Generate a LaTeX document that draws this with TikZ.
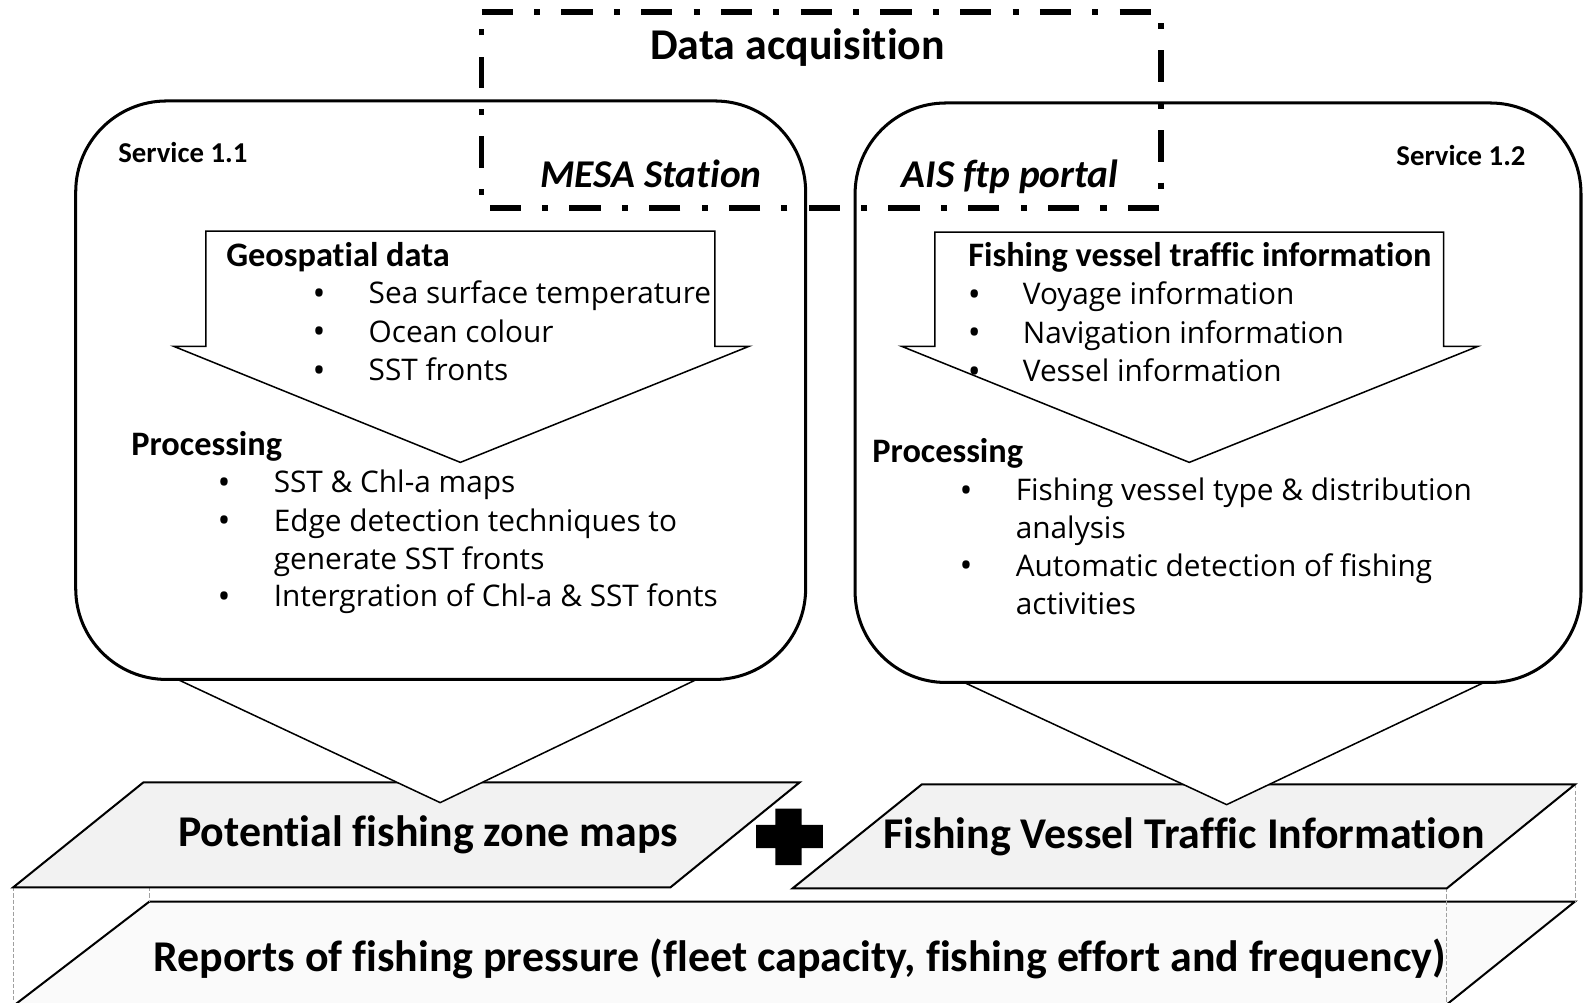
\documentclass[tikz,border=0pt]{standalone}
\usepackage{fontspec}
\setmainfont{Carlito}[Ligatures=NoCommon]
\newfontfamily\regfont{Open Sans}[Ligatures=NoCommon]
\definecolor{pgray}{HTML}{F2F2F2}
\definecolor{sgray}{HTML}{FAFAFA}
\definecolor{dgray}{HTML}{A0A0A0}
\tikzset{
  hd/.style={font=\bfseries\fontsize{34}{38}\selectfont, inner sep=0pt, anchor=west, text depth=0pt, text height=22.4pt},
  big/.style={font=\bfseries\fontsize{43.5}{48}\selectfont, inner sep=0pt, text depth=0pt, text height=28.8pt},
  svc/.style={font=\bfseries\fontsize{28.5}{30}\selectfont, inner sep=0pt, anchor=west, text depth=0pt, text height=18.8pt},
  src/.style={font=\bfseries\itshape\fontsize{39}{42}\selectfont, inner sep=0pt, anchor=west, text depth=0pt, text height=26.5pt},
  txt/.style={font=\regfont\fontsize{29.5}{38}\selectfont, inner sep=0pt, anchor=west, text depth=0pt, text height=22pt},
  bul/.style={font=\regfont\fontsize{34}{38}\selectfont, inner sep=0pt, text depth=0pt, text height=25pt},
  rbox/.style={line width=3pt, rounded corners=90pt},
  barrow/.style={line width=1.5pt, line join=miter},
  para/.style={draw, line width=2pt, fill=pgray, line join=miter},
  funnel/.style={line width=1.5pt},
  dashbox/.style={line width=5.5pt, dash pattern=on 31pt off 21pt on 6pt off 21pt},
  guide/.style={dgray, line width=0.8pt, dash pattern=on 4pt off 2pt},
}
\begin{document}
\begin{tikzpicture}[x=1pt,y=-1pt]
\useasboundingbox (0,0) rectangle (1568,993);

% bottom slab
\fill[sgray] (148,893) -- (1560,893) -- (1433,995) -- (15,995) -- cycle;
\draw[line width=2pt] (15,995) -- (148,893) -- (1560,893) -- (1433,995);
\draw[guide] (13,879) -- (13,993);
\draw[guide] (148,879) -- (148,893);
\draw[guide] (1433,880) -- (1433,993);
\draw[guide] (1560,777) -- (1560,893);
\node[big] (reports) at (792,948) {Reports of fishing pressure (fleet capacity, fishing effort and frequency)};

% parallelograms
\draw[para] (142,775) -- (792,775) -- (664,879) -- (13,879) -- cycle;
\draw[para] (913,777) -- (1560,777) -- (1433,880) -- (785,880) -- cycle;

% funnels
\fill[white] (176,675) -- (436,795) -- (690,675) -- cycle;
\draw[funnel] (176,673) -- (436,795) -- (690,673);
\fill[white] (955,678) -- (1215,797) -- (1470,678) -- cycle;
\draw[funnel] (955,676) -- (1215,797) -- (1470,676);

\node[big] (pfz) at (424,824) {Potential fishing zone maps};
\node[big] (fvti) at (1173,826) {Fishing Vessel Traffic Information};

% plus
\fill (749,817) -- (768,817) -- (768,801) -- (794,801) -- (794,817) -- (815,817) -- (815,840) -- (794,840) -- (794,857) -- (768,857) -- (768,840) -- (749,840) -- cycle;

% rounded service boxes
\draw[rbox] (75,100) rectangle (798,673);
\draw[rbox] (847,102) rectangle (1566,676);

% block arrows
\draw[barrow] (204,229) -- (708,229) -- (708,343) -- (742,343) -- (456,458) -- (172,343) -- (204,343) -- cycle;
\draw[barrow] (926,230) -- (1430,230) -- (1430,343) -- (1464,343) -- (1178,458) -- (893,343) -- (926,343) -- cycle;

% data acquisition box
\draw[dashbox] (477,12) -- (1150,12) -- (1150,206) -- (477,206) -- cycle;
\node[big] (da) at (790,45) {Data acquisition};
\node[src] (mesa) at (535,172) {MESA Station};
\node[src] (ais) at (893,172) {AIS ftp portal};

% service labels
\node[svc] (s11) at (117,152) {Service 1.1};
\node[svc] (s12) at (1383,155) {Service 1.2};

% left content
\node[hd] (geo) at (224,253) {Geospatial data};
\node[bul] (b1) at (316,290) {•};
\node[txt] (t1) at (365,290) {Sea surface temperature};
\node[bul] (b2) at (316,328) {•};
\node[txt] (t2) at (365,328) {Ocean colour};
\node[bul] (b3) at (316,366) {•};
\node[txt] (t3) at (365,366) {SST fronts};
\node[hd] (proc1) at (130,440) {Processing};
\node[bul] (b4) at (222,477) {•};
\node[txt] (t4) at (271,477) {SST \& Chl-a maps};
\node[bul] (b5) at (222,515) {•};
\node[txt] (t5) at (271,515) {Edge detection techniques to};
\node[txt] (t5b) at (271,553) {generate SST fronts};
\node[bul] (b6) at (222,590) {•};
\node[txt] (t6) at (271,590) {Intergration of Chl-a \& SST fonts};

% right content
\node[hd] (fvt) at (959,253) {Fishing vessel traffic information};
\node[bul] (c1) at (965,291) {•};
\node[txt] (u1) at (1013,291) {Voyage information};
\node[bul] (c2) at (965,329) {•};
\node[txt] (u2) at (1013,329) {Navigation information};
\node[bul] (c3) at (965,367) {•};
\node[txt] (u3) at (1013,367) {Vessel information};
\node[hd] (proc2) at (864,447) {Processing};
\node[bul] (c4) at (957,485) {•};
\node[txt] (u4) at (1006,485) {Fishing vessel type \& distribution};
\node[txt] (u4b) at (1006,522) {analysis};
\node[bul] (c5) at (957,560) {•};
\node[txt] (u5) at (1006,560) {Automatic detection of fishing};
\node[txt] (u5b) at (1006,598) {activities};
\end{tikzpicture}
\end{document}
